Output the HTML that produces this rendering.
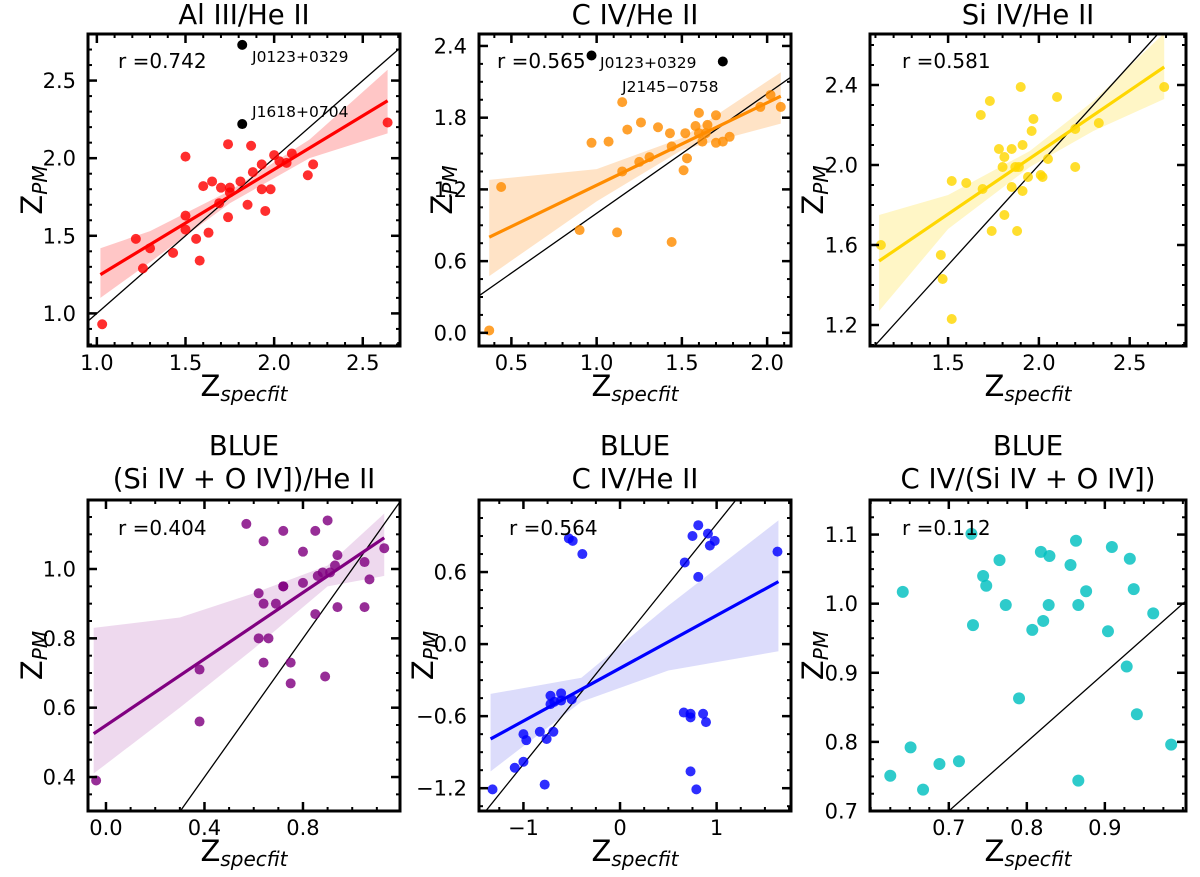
<!DOCTYPE html>
<html><head><meta charset="utf-8"><style>
html,body{margin:0;padding:0;background:#fff;overflow:hidden;}
svg{display:block;font-family:"DejaVu Sans","Liberation Sans",sans-serif;}
</style></head><body>
<svg id="fig" width="1200" height="877" viewBox="0 0 1200 877"></svg>
<script>
// ---- Panel 1: Al III/He II
const p1X=[1.03,1.22,1.26,1.30,1.43,1.50,1.50,1.50,1.56,1.58,1.60,1.63,1.65,1.69,1.70,1.74,1.74,1.75,1.75,1.81,1.85,1.87,1.88,1.93,1.93,1.98,1.95,2.00,2.03,2.07,2.10,2.19,2.22,2.64];
const p1Y=[0.93,1.48,1.29,1.42,1.39,2.01,1.63,1.54,1.48,1.34,1.82,1.52,1.85,1.71,1.81,2.09,1.62,1.81,1.78,1.85,1.70,2.08,1.91,1.96,1.80,1.80,1.66,2.02,1.98,1.97,2.03,1.89,1.96,2.23];
const p1OutX=[1.82,1.82], p1OutY=[2.73,2.22];
const p1OutNames=["J0123+0329","J1618+0704"];
const p1FitX=[1.02,2.64], p1FitY=[1.25,2.37];
const p1BandX=[1.02,1.3,1.75,2.2,2.64], p1BandLo=[1.10,1.33,1.71,2.00,2.16], p1BandHi=[1.42,1.53,1.79,2.12,2.57];
// ---- Panel 2: C IV/He II
const p2X=[0.37,0.44,0.90,0.97,1.07,1.12,1.15,1.15,1.18,1.25,1.26,1.31,1.36,1.43,1.44,1.44,1.51,1.53,1.52,1.58,1.60,1.60,1.62,1.64,1.65,1.70,1.70,1.74,1.78,1.96,2.02,2.08];
const p2Y=[0.02,1.22,0.86,1.59,1.60,0.84,1.93,1.35,1.70,1.43,1.76,1.47,1.72,1.67,1.56,0.76,1.36,1.46,1.67,1.73,1.84,1.67,1.60,1.67,1.74,1.82,1.59,1.60,1.64,1.89,1.99,1.89];
const p2OutX=[0.97,1.74], p2OutY=[2.32,2.27];
const p2OutNames=["J0123+0329","J2145\u22120758"];
const p2FitX=[0.37,2.08], p2FitY=[0.80,1.98];
const p2BandX=[0.37,1.0,1.5,2.08], p2BandLo=[0.475,1.10,1.53,1.75], p2BandHi=[1.28,1.37,1.63,2.18];
// ---- Panel 3: Si IV/He II
const p3X=[1.13,1.46,1.47,1.52,1.52,1.60,1.68,1.69,1.73,1.74,1.78,1.80,1.81,1.81,1.85,1.85,1.87,1.88,1.89,1.90,1.91,1.91,1.94,1.96,1.97,2.01,2.02,2.05,2.10,2.20,2.20,2.33,2.69];
const p3Y=[1.60,1.55,1.43,1.23,1.92,1.91,2.25,1.88,2.32,1.67,2.08,1.99,2.04,1.75,2.08,1.89,1.99,1.67,1.99,2.39,2.10,1.87,1.94,2.17,2.23,1.95,1.94,2.03,2.34,1.99,2.18,2.21,2.39];
const p3FitX=[1.12,2.69], p3FitY=[1.52,2.49];
const p3BandX=[1.12,1.5,1.95,2.3,2.69], p3BandLo=[1.27,1.68,1.99,2.17,2.33], p3BandHi=[1.75,1.85,2.07,2.32,2.66];
// ---- Panel 4: BLUE (Si IV + O IV])/He II
const p4X=[-0.04,0.38,0.38,0.57,0.62,0.62,0.64,0.64,0.64,0.66,0.69,0.72,0.72,0.72,0.75,0.75,0.80,0.80,0.85,0.85,0.86,0.89,0.88,0.90,0.91,0.93,0.94,0.94,1.05,1.05,1.07,1.13];
const p4Y=[0.39,0.71,0.56,1.13,0.93,0.80,1.08,0.90,0.73,0.80,0.90,1.11,0.95,0.95,0.67,0.73,1.05,0.96,1.11,0.87,0.98,0.69,0.99,1.14,0.99,1.01,1.04,0.89,1.02,0.89,0.97,1.06];
const p4FitX=[-0.05,1.13], p4FitY=[0.525,1.09];
const p4BandX=[-0.05,0.3,0.6,0.9,1.13], p4BandLo=[0.41,0.60,0.77,0.95,0.98], p4BandHi=[0.83,0.86,0.93,1.01,1.16];
// ---- Panel 5: BLUE C IV/He II
const p5X=[-1.32,-1.09,-1.00,-1.00,-0.97,-0.83,-0.78,-0.76,-0.72,-0.72,-0.69,-0.68,-0.61,-0.61,-0.50,-0.53,-0.49,-0.39,0.66,0.73,0.73,0.73,0.79,0.86,0.89,0.67,0.75,0.81,0.81,0.91,0.93,0.98,1.63];
const p5Y=[-1.21,-1.03,-0.98,-0.75,-0.80,-0.73,-1.17,-0.79,-0.43,-0.50,-0.73,-0.48,-0.41,-0.47,-0.46,0.88,0.86,0.75,-0.57,-0.58,-0.61,-1.06,-1.21,-0.58,-0.65,0.68,0.90,0.99,0.56,0.92,0.82,0.86,0.77];
const p5FitX=[-1.34,1.64], p5FitY=[-0.79,0.52];
const p5BandX=[-1.34,-0.4,0.5,1.64], p5BandLo=[-1.06,-0.48,-0.22,-0.06], p5BandHi=[-0.415,-0.28,0.32,1.03];
// ---- Panel 6: BLUE C IV/(Si IV + O IV])
const p6X=[0.625,0.641,0.651,0.667,0.688,0.713,0.729,0.731,0.744,0.748,0.765,0.773,0.790,0.807,0.818,0.821,0.829,0.828,0.856,0.863,0.866,0.866,0.876,0.904,0.909,0.928,0.932,0.937,0.941,0.962,0.985];
const p6Y=[0.751,1.017,0.792,0.731,0.768,0.772,1.101,0.969,1.040,1.026,1.063,0.998,0.863,0.962,1.075,0.975,1.069,0.998,1.056,1.091,0.998,0.744,1.018,0.960,1.082,0.909,1.065,1.021,0.840,0.986,0.796];
// tick labels
const p1XT=[1.0,1.5,2.0,2.5], p1YT=[1.0,1.5,2.0,2.5];
const p2XT=[0.5,1.0,1.5,2.0], p2YT=[0.0,0.6,1.2,1.8,2.4];
const p3XT=[1.5,2.0,2.5], p3YT=[1.2,1.6,2.0,2.4];
const p4XT=[0.0,0.4,0.8], p4YT=[0.4,0.6,0.8,1.0];
const p5XT=[-1,0,1], p5YT=[-1.2,-0.6,0.0,0.6];
const p6XT=[0.7,0.8,0.9], p6YT=[0.7,0.8,0.9,1.0,1.1];

const panels=[
 {id:1,L:88,R:400,T:34,B:346,xd:[0.95,2.71],yd:[0.79,2.80],xt:p1XT,yt:p1YT,xf:1,yf:1,xm:0.1,ym:0.1,X:p1X,Y:p1Y,col:"#ff0000",band:"#ffb3b3",r:5,
  fx:p1FitX,fy:p1FitY,bx:p1BandX,bl:p1BandLo,bh:p1BandHi,ox:p1OutX,oy:p1OutY,on:p1OutNames,onPos:[[252,62],[252,117]],
  title:["Al III/He II"],rtext:"r =0.742",rx:118,ry:68,ylx:32},
 {id:2,L:479,R:791,T:34,B:346,xd:[0.31,2.14],yd:[-0.11,2.5],xt:p2XT,yt:p2YT,xf:1,yf:1,xm:0.1,ym:0.15,X:p2X,Y:p2Y,col:"#ff8c00",band:"#ffd9b3",r:5,
  fx:p2FitX,fy:p2FitY,bx:p2BandX,bl:p2BandLo,bh:p2BandHi,ox:p2OutX,oy:p2OutY,on:p2OutNames,onPos:[[600,68],[622,92]],
  title:["C IV/He II"],rtext:"r =0.565",rx:497,ry:68,ylx:442},
 {id:3,L:870,R:1186,T:34,B:346,xd:[1.07,2.81],yd:[1.095,2.655],xt:p3XT,yt:p3YT,xf:1,yf:1,xm:0.1,ym:0.1,X:p3X,Y:p3Y,col:"#ffd700",band:"#fff3b3",r:5,
  fx:p3FitX,fy:p3FitY,bx:p3BandX,bl:p3BandLo,bh:p3BandHi,
  title:["Si IV/He II"],rtext:"r =0.581",rx:902,ry:68,ylx:813},
 {id:4,L:88,R:400,T:500,B:811,xd:[-0.073,1.194],yd:[0.302,1.199],xt:p4XT,yt:p4YT,xf:1,yf:1,xm:0.1,ym:0.05,X:p4X,Y:p4Y,col:"#800080",band:"#e8cce8",r:5,
  fx:p4FitX,fy:p4FitY,bx:p4BandX,bl:p4BandLo,bh:p4BandHi,
  title:["BLUE","(Si IV + O IV])/He II"],rtext:"r =0.404",rx:118,ry:535,ylx:32},
 {id:5,L:479,R:791,T:500,B:811,xd:[-1.46,1.77],yd:[-1.39,1.2],xt:p5XT,yt:p5YT,xf:0,yf:1,xm:0.25,ym:0.15,X:p5X,Y:p5Y,col:"#0000ff",band:"#d0d0fa",r:5,
  fx:p5FitX,fy:p5FitY,bx:p5BandX,bl:p5BandLo,bh:p5BandHi,
  title:["BLUE","C IV/He II"],rtext:"r =0.564",rx:509,ry:535,ylx:423},
 {id:6,L:870,R:1186,T:500,B:811,xd:[0.599,1.004],yd:[0.7,1.15],xt:p6XT,yt:p6YT,xf:1,yf:1,xm:0.025,ym:0.025,X:p6X,Y:p6Y,col:"#00bfbf",band:null,r:6,
  title:["BLUE","C IV/(Si IV + O IV])"],rtext:"r =0.112",rx:902,ry:535,ylx:813}
];

const NS="http://www.w3.org/2000/svg";
const svg=document.getElementById('fig');
function el(tag,attrs,parent){const e=document.createElementNS(NS,tag);for(const k in attrs)e.setAttribute(k,attrs[k]);(parent||svg).appendChild(e);return e;}
function fmt(v,d){const s=v.toFixed(d);return s.replace('-','\u2212');}
const defs=el('defs',{});
panels.forEach(p=>{
  const g=el('g',{});
  
  
  const sx=v=>p.L+(v-p.xd[0])/(p.xd[1]-p.xd[0])*(p.R-p.L);
  const sy=v=>p.B-(v-p.yd[0])/(p.yd[1]-p.yd[0])*(p.B-p.T);
  const cp=el('clipPath',{id:'clip'+p.id},defs);
  el('rect',{x:p.L,y:p.T,width:p.R-p.L,height:p.B-p.T},cp);
  const inner=el('g',{'clip-path':'url(#clip'+p.id+')'},g);
  if(p.band){
    let d='M'+p.bx.map((x,i)=>sx(x)+','+sy(p.bh[i])).join(' L');
    d+=' L'+p.bx.slice().reverse().map((x,i)=>sx(x)+','+sy(p.bl[p.bx.length-1-i])).join(' L')+' Z';
    const b=el('path',{d:d,fill:p.band,opacity:0.75},inner);
    
    
  }
  const lo=Math.min(p.xd[0],p.yd[0]), hi=Math.max(p.xd[1],p.yd[1]);
  const idl=el('line',{x1:sx(lo),y1:sy(lo),x2:sx(hi),y2:sy(hi),stroke:'#000','stroke-width':1.3},inner);
  
  
  p.X.forEach((x,i)=>{
    const c=el('circle',{cx:sx(x),cy:sy(p.Y[i]),r:p.r,fill:p.col,opacity:0.82},inner);
    
    
  });
  if(p.fx){
    const fl=el('line',{x1:sx(p.fx[0]),y1:sy(p.fy[0]),x2:sx(p.fx[1]),y2:sy(p.fy[1]),stroke:p.col,'stroke-width':3.2},inner);
    
    
  }
  if(p.ox){
    p.ox.forEach((x,i)=>{
      const c=el('circle',{cx:sx(x),cy:sy(p.oy[i]),r:5,fill:'#000'},g);
      
      
      const t=el('text',{x:p.onPos[i][0],y:p.onPos[i][1],'font-size':15.5,fill:'#000'},g);
      t.textContent=p.on[i];
      
      
    });
  }
  const tk=el('g',{stroke:'#000','stroke-width':2},g);
  const minorX=[],minorY=[];
  for(let v=Math.ceil(p.xd[0]/p.xm-1e-6)*p.xm; v<=p.xd[1]; v+=p.xm) minorX.push(v);
  for(let v=Math.ceil(p.yd[0]/p.ym-1e-6)*p.ym; v<=p.yd[1]; v+=p.ym) minorY.push(v);
  minorX.forEach(v=>{const x=sx(v);el('line',{x1:x,y1:p.B,x2:x,y2:p.B-4},tk);el('line',{x1:x,y1:p.T,x2:x,y2:p.T+4},tk);});
  minorY.forEach(v=>{const y=sy(v);el('line',{x1:p.L,y1:y,x2:p.L+4,y2:y},tk);el('line',{x1:p.R,y1:y,x2:p.R-4,y2:y},tk);});
  p.xt.forEach(v=>{const x=sx(v);el('line',{x1:x,y1:p.B,x2:x,y2:p.B-9,'stroke-width':2.5},tk);el('line',{x1:x,y1:p.T,x2:x,y2:p.T+9,'stroke-width':2.5},tk);
    const t=el('text',{x:x,y:p.B+24,'font-size':21,'text-anchor':'middle'},g);t.textContent=fmt(v,p.xf);
    
    });
  p.yt.forEach(v=>{const y=sy(v);el('line',{x1:p.L,y1:y,x2:p.L+9,y2:y,'stroke-width':2.5},tk);el('line',{x1:p.R,y1:y,x2:p.R-9,y2:y,'stroke-width':2.5},tk);
    const t=el('text',{x:p.L-12,y:y+7.5,'font-size':21,'text-anchor':'end'},g);t.textContent=fmt(v,p.yf);
    
    });
  const fr=el('rect',{x:p.L,y:p.T,width:p.R-p.L,height:p.B-p.T,fill:'none',stroke:'#000','stroke-width':3},g);
  
  
  const cx=(p.L+p.R)/2;
  p.title.forEach((s,i)=>{
    const by=p.title.length===1?p.T-10:p.T-45+i*33;
    const t=el('text',{x:cx,y:by,'font-size':27.5,'text-anchor':'middle'},g);t.textContent=s;
    
    
  });
  const rt=el('text',{x:p.rx,y:p.ry,'font-size':20},g);rt.textContent=p.rtext;
  
  
  const xl=el('text',{x:cx,y:p.B+50,'font-size':29,'text-anchor':'middle'},g);
  xl.innerHTML='Z<tspan font-size="20" font-style="italic" dy="5">specfit</tspan>';
  
  
  const ycy=(p.T+p.B)/2;
  const yl=el('text',{x:0,y:0,'font-size':29,'text-anchor':'middle',transform:'translate('+(p.ylx+10)+','+ycy+') rotate(-90)'},g);
  yl.innerHTML='Z<tspan font-size="20" font-style="italic" dy="5">PM</tspan>';
  
  
});
</script>
</body></html>
